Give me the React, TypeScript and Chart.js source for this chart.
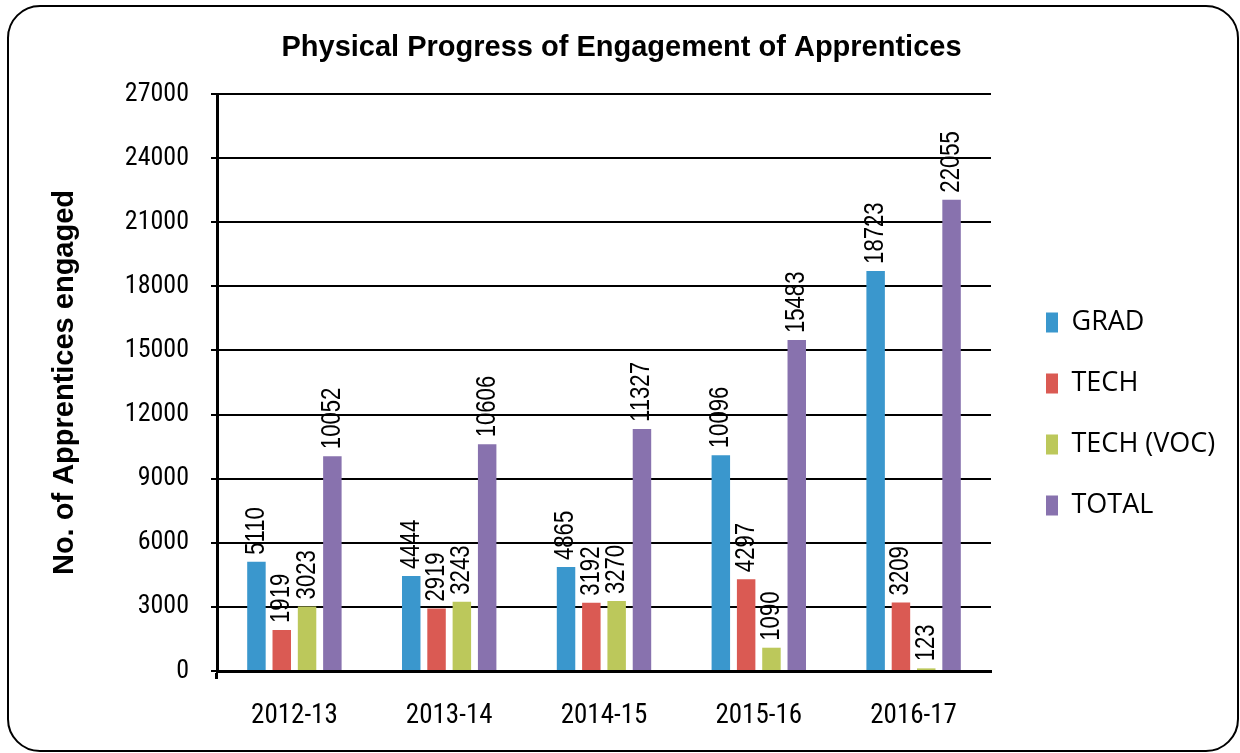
import React, { useEffect, useRef } from 'react';
import { Chart, registerables } from 'chart.js';

Chart.register(...registerables);

// ---- data ----
const categories = ['2012-13', '2013-14', '2014-15', '2015-16', '2016-17'];
const seriesNames = ['GRAD', 'TECH', 'TECH (VOC)', 'TOTAL'];
const grad = [5110, 4444, 4865, 10096, 18723];
const tech = [1919, 2919, 3192, 4297, 3209];
const techVoc = [3023, 3243, 3270, 1090, 123];
const total = [10052, 10606, 11327, 15483, 22055];
const yMin = 0;
const yMax = 27000;
const yStep = 3000;
const chartTitle = 'Physical Progress of Engagement of Apprentices';
const yAxisTitle = 'No. of Apprentices engaged';

// ---- style ----
const colors = ['#3A97CD', '#DA5A53', '#BCC85B', '#8872AE'];
const NARROW = '"Roboto Condensed", "DejaVu Sans Condensed", "Liberation Sans", Arial, sans-serif';
const SANS = '"Liberation Sans", Arial, sans-serif';
const LEGEND_FONT = '"Open Sans", "Noto Sans", sans-serif';
const LEGEND_SIZE = 27;
const LEGEND_PAD = 34;
const LEGEND_BOX_X = 1046;
const LEGEND_FIRST_TOP = 309;
const TITLE_LEFT = 3;

const valueLabels = {
  id: 'valueLabels',
  afterDatasetsDraw(chart: any) {
    const ctx = chart.ctx;
    ctx.save();
    ctx.font = `27px ${SANS}`;
    ctx.fillStyle = '#000';
    ctx.textAlign = 'left';
    ctx.textBaseline = 'middle';
    chart.data.datasets.forEach((ds: any, i: number) => {
      const meta = chart.getDatasetMeta(i);
      meta.data.forEach((bar: any, j: number) => {
        ctx.save();
        ctx.translate(bar.x, bar.y - 7);
        ctx.rotate(-Math.PI / 2);
        ctx.scale(0.82, 1);
        ctx.fillText(String(ds.data[j]), 0, 0);
        ctx.restore();
      });
    });
    ctx.restore();
  },
};

const boxPlacement = {
  id: 'boxPlacement',
  afterLayout(chart: any) {
    const lg = chart.legend;
    if (lg && lg.columnSizes && lg.columnSizes.length) {
      const newLeft = LEGEND_BOX_X - LEGEND_PAD;
      const w = chart.width - newLeft;
      const h = lg.bottom - lg.top;
      const colH = lg.columnSizes[0].height;
      const newTop = LEGEND_FIRST_TOP - (h + LEGEND_PAD - colH) / 2;
      lg.left = newLeft;
      lg.right = newLeft + w;
      lg.width = w;
      lg.top = newTop;
      lg.bottom = newTop + h;
    }
    const tb = chart.titleBlock;
    if (tb) {
      tb.left = TITLE_LEFT;
      tb.right = chart.width;
      tb.width = chart.width - TITLE_LEFT;
    }
  },
};

export default function App() {
  const ref = useRef<HTMLCanvasElement>(null);

  useEffect(() => {
    const seriesData = [grad, tech, techVoc, total];
    const chart = new Chart(ref.current as HTMLCanvasElement, {
      type: 'bar',
      data: {
        labels: categories,
        datasets: seriesNames.map((name, i) => ({
          label: name,
          data: seriesData[i],
          backgroundColor: colors[i],
          borderWidth: 0,
          categoryPercentage: 0.654,
          barPercentage: 0.73,
        })),
      },
      options: {
        animation: false,
        responsive: false,
        devicePixelRatio: 1,
        layout: { padding: { left: 0, top: 0, right: 69, bottom: 0 } },
        plugins: {
          title: {
            display: true,
            text: chartTitle,
            color: '#000',
            font: { family: SANS, size: 29, weight: 'bold' },
            padding: { top: 31, bottom: 28.2 },
          },
          legend: {
            display: true,
            position: 'right',
            maxWidth: 180,
            labels: {
              color: '#000',
              font: { family: LEGEND_FONT, size: LEGEND_SIZE },
              boxWidth: 12,
              boxHeight: 20,
              padding: LEGEND_PAD,
            },
          },
          tooltip: { enabled: false },
        },
        scales: {
          x: {
            grid: {
              display: true,
              drawOnChartArea: false,
              drawTicks: true,
              tickLength: 8,
              tickWidth: 3,
              tickColor: (c: any) => (c.index === 0 ? '#000' : 'rgba(0,0,0,0)'),
            },
            border: { display: true, color: '#000', width: 3 },
            ticks: {
              color: '#000',
              font: { family: NARROW, size: 27 },
              padding: 21,
              maxRotation: 0,
            },
            afterFit(scale: any) {
              scale.height = 82;
            },
          },
          y: {
            min: yMin,
            max: yMax,
            grid: {
              color: '#000',
              lineWidth: 2,
              tickLength: 6,
              tickColor: '#000',
              tickWidth: 2,
            },
            border: { display: true, color: '#000', width: 3 },
            ticks: {
              stepSize: yStep,
              color: '#000',
              font: { family: NARROW, size: 26 },
              padding: 22,
              callback: (v: any) => String(v),
            },
            title: {
              display: true,
              text: yAxisTitle,
              color: '#000',
              font: { family: SANS, size: 29, weight: 'bold' },
              padding: { top: 48, bottom: 0 },
            },
            afterFit(scale: any) {
              scale.width = 217;
            },
          },
        },
      },
      plugins: [valueLabels, boxPlacement],
    } as any);
    return () => chart.destroy();
  }, []);

  return (
    <div
      style={{
        position: 'fixed',
        left: 0,
        top: 0,
        width: 1240,
        height: 753,
        background: '#fff',
        overflow: 'hidden',
      }}
    >
      <div
        style={{
          position: 'absolute',
          left: 7,
          top: 5,
          width: 1232,
          height: 747,
          border: '2px solid #000',
          borderRadius: 33,
          boxSizing: 'border-box',
        }}
      />
      <canvas
        ref={ref}
        width={1240}
        height={753}
        style={{ position: 'absolute', left: 0, top: 0, width: 1240, height: 753 }}
      />
    </div>
  );
}
